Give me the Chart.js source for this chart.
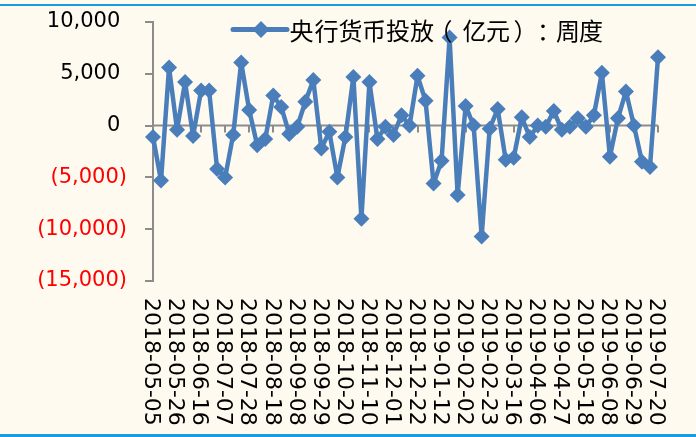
<!DOCTYPE html>
<html>
<head>
<meta charset="utf-8">
<script src="https://cdn.jsdelivr.net/npm/chart.js@4.4.1/dist/chart.umd.min.js"></script>
<style>
  html, body { margin: 0; padding: 0; background: #FFFAF0; }
  #wrap { width: 696px; height: 437px; }
</style>
</head>
<body>
<div id="wrap"><canvas id="c" width="696" height="437"></canvas></div>
<script>
// Weekly observation dates
const weeks = [
  '2018-05-05','2018-05-12','2018-05-19','2018-05-26','2018-06-02','2018-06-09','2018-06-16','2018-06-23',
  '2018-06-30','2018-07-07','2018-07-14','2018-07-21','2018-07-28','2018-08-04','2018-08-11','2018-08-18',
  '2018-08-25','2018-09-01','2018-09-08','2018-09-15','2018-09-22','2018-09-29','2018-10-06','2018-10-13',
  '2018-10-20','2018-10-27','2018-11-03','2018-11-10','2018-11-17','2018-11-24','2018-12-01','2018-12-08',
  '2018-12-15','2018-12-22','2018-12-29','2019-01-05','2019-01-12','2019-01-19','2019-01-26','2019-02-02',
  '2019-02-09','2019-02-16','2019-02-23','2019-03-02','2019-03-09','2019-03-16','2019-03-23','2019-03-30',
  '2019-04-06','2019-04-13','2019-04-20','2019-04-27','2019-05-04','2019-05-11','2019-05-18','2019-05-25',
  '2019-06-01','2019-06-08','2019-06-15','2019-06-22','2019-06-29','2019-07-06','2019-07-13','2019-07-20'
];

// Net central bank liquidity injection per week (100 million yuan)
const injection = [
  -1100, -5300, 5600, -400, 4200, -1000, 3400, 3400,
  -4200, -5000, -900, 6100, 1500, -1900, -1300, 2900,
  1800, -800, -100, 2300, 4400, -2200, -600, -5000,
  -1100, 4700, -9000, 4200, -1300, -100, -900, 1000,
  0, 4800, 2400, -5600, -3400, 8500, -6700, 1900,
  0, -10700, -300, 1600, -3300, -3100, 800, -1100,
  0, -100, 1400, -400, -100, 700, -100, 1000,
  5100, -3000, 700, 3300, 0, -3500, -4000, 6600
];

// Every third week gets a date label on the category axis
const labelStep = 3;
const seriesName = '央行货币投放（亿元）：周度';

const yTicks = { min: -15000, max: 10000, step: 5000 };

const lineColor = '#4A7EBB';
const axisColor = '#8C8C8C';

function fmtTick(v) {
  const s = Math.abs(v).toLocaleString('en-US');
  return v < 0 ? '(' + s + ')' : s + '\u2008';
}

// ink centres of the legend characters (punctuation sits on its own spacing)
const legendCentres = [302, 326, 350, 374, 398, 422, 448, 474, 498, 518, 543, 567, 591];

const decorations = {
  id: 'decorations',
  beforeDraw(chart) {
    const ctx = chart.ctx;
    ctx.save();
    ctx.fillStyle = '#FFFAF0';
    ctx.fillRect(0, 0, chart.width, chart.height);
    ctx.restore();
  },
  beforeDatasetsDraw(chart) {
    const ctx = chart.ctx;
    const xs = chart.scales.x, ys = chart.scales.y;
    const y0 = ys.getPixelForValue(0);
    ctx.save();
    ctx.strokeStyle = axisColor;
    ctx.lineWidth = 2;
    ctx.beginPath();
    ctx.moveTo(chart.chartArea.left, y0);
    ctx.lineTo(chart.chartArea.right, y0);
    for (let i = 0; i < weeks.length; i += labelStep) {
      const x = Math.round(xs.getPixelForValue(i));
      ctx.moveTo(x, y0);
      ctx.lineTo(x, y0 + 7);
    }
    ctx.stroke();
    ctx.restore();
  },
  afterDraw(chart) {
    const ctx = chart.ctx;
    const xs = chart.scales.x;
    ctx.save();
    // rotated date labels, reading downwards
    ctx.fillStyle = '#000';
    ctx.font = '22px "DejaVu Sans"';
    ctx.textAlign = 'left';
    ctx.textBaseline = 'middle';
    for (let i = 0; i < weeks.length; i += labelStep) {
      const x = xs.getPixelForValue(i);
      ctx.save();
      ctx.translate(x - 2, 298);
      ctx.rotate(Math.PI / 2);
      ctx.fillText(weeks[i], 0, 0);
      ctx.restore();
    }
    // legend: line with diamond marker, then the series name
    const ly = 29.5;
    ctx.strokeStyle = lineColor;
    ctx.lineWidth = 5;
    ctx.lineCap = 'round';
    ctx.beginPath();
    ctx.moveTo(233, ly);
    ctx.lineTo(287, ly);
    ctx.stroke();
    ctx.fillStyle = lineColor;
    const r = 8.5;
    ctx.beginPath();
    ctx.moveTo(261 - r, ly);
    ctx.lineTo(261, ly - r);
    ctx.lineTo(261 + r, ly);
    ctx.lineTo(261, ly + r);
    ctx.closePath();
    ctx.fill();
    ctx.fillStyle = '#000';
    ctx.font = '24px "Noto Sans CJK SC"';
    ctx.textAlign = 'left';
    ctx.textBaseline = 'middle';
    Array.from(seriesName).forEach((ch, k) => {
      const m = ctx.measureText(ch);
      const inkMid = (m.actualBoundingBoxRight - m.actualBoundingBoxLeft) / 2;
      ctx.fillText(ch, legendCentres[k] - inkMid, ly + 1);
    });
    // frame rules at top and bottom
    ctx.fillStyle = '#1A9BDF';
    ctx.fillRect(0, 4, chart.width, 2);
    ctx.fillRect(0, 434, chart.width, 3);
    ctx.restore();
  }
};

new Chart(document.getElementById('c'), {
  type: 'line',
  data: {
    labels: weeks,
    datasets: [{
      label: seriesName,
      data: injection,
      borderColor: lineColor,
      backgroundColor: lineColor,
      borderWidth: 4.5,
      borderJoinStyle: 'round',
      borderCapStyle: 'round',
      pointStyle: 'rectRot',
      pointRadius: 8,
      pointBorderWidth: 0,
      pointBackgroundColor: lineColor,
      tension: 0,
      fill: false
    }]
  },
  options: {
    responsive: false,
    animation: false,
    devicePixelRatio: 1,
    layout: { padding: { left: 0, right: 38, top: 22, bottom: 156 } },
    plugins: { legend: { display: false }, tooltip: { enabled: false } },
    scales: {
      x: { display: false, offset: false },
      y: {
        min: yTicks.min,
        max: yTicks.max,
        afterFit(s) {
          s.width = 153;
          s.paddingTop = 10;
          s.paddingBottom = 10;
        },
        ticks: {
          stepSize: yTicks.step,
          padding: 18,
          font: { family: 'DejaVu Sans', size: 21 },
          color: (c) => (c.tick && c.tick.value < 0 ? '#FF0000' : '#000000'),
          callback: (v) => fmtTick(v)
        },
        grid: { drawOnChartArea: false, drawTicks: true, tickLength: 8, color: axisColor, lineWidth: 2 },
        border: { color: axisColor, width: 2 }
      }
    }
  },
  plugins: [decorations]
});
</script>
</body>
</html>
